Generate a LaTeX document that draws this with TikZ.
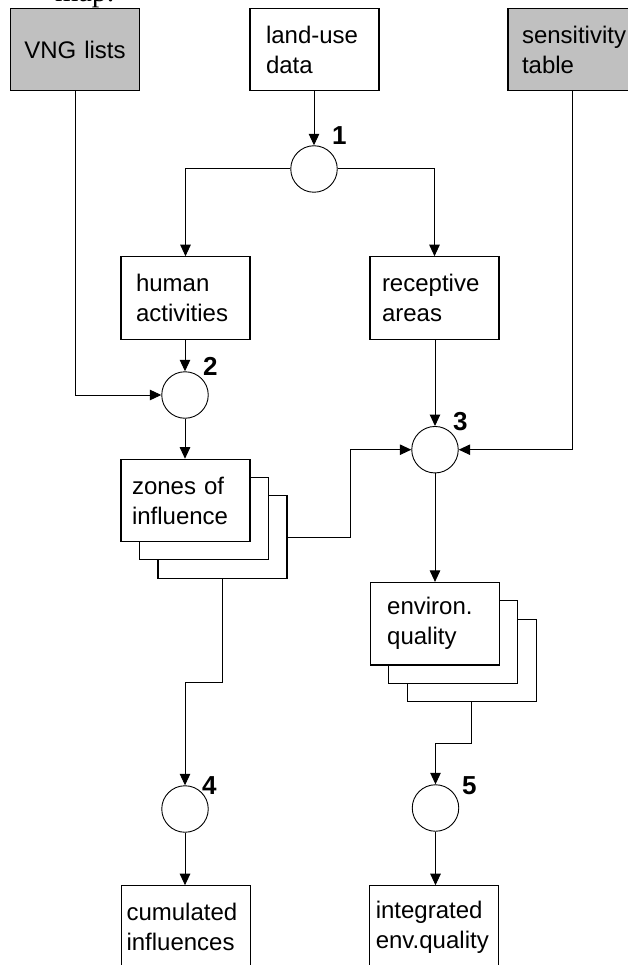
\documentclass[tikz,border=0pt]{standalone}
\usepackage{fontspec}
\setmainfont{Liberation Sans}
\newfontfamily\headserif{Liberation Serif}
\usetikzlibrary{arrows.meta}
\definecolor{sourcegray}{RGB}{192,192,192}
\tikzset{
  box/.style={draw, line width=1.1pt, fill=white, minimum height=82.5pt,
    align=left, inner ysep=0pt, font=\fontsize{24}{30}\selectfont},
  source/.style={box, fill=sourcegray},
  sheet/.style={draw, line width=1.1pt, fill=white, minimum width=129pt,
    minimum height=82.5pt, inner sep=0pt},
  proc/.style={circle, draw, line width=0.9pt, fill=white, minimum size=46.5pt, inner sep=0pt},
  num/.style={anchor=base west, inner sep=0pt, font=\fontsize{26}{26}\selectfont\bfseries},
  flow/.style={line width=1pt, -{Triangle[length=11.5pt,width=10.5pt]}}
}
\begin{document}
\begin{tikzpicture}[x=1pt, y=-1pt]
\useasboundingbox (0,0) rectangle (628,965);
\clip (0,0) rectangle (628,965);

% heading fragment above the first input
\node[anchor=base west, inner sep=0pt, font=\headserif\fontsize{30}{30}\selectfont] (head) at (55,2) {map.};

% inputs
\node[source, align=center, inner xsep=10pt, text width=109pt] (vng) at (75,49.5) {VNG lists};
\node[box, inner xsep=16pt, text width=97pt] (land) at (314.5,49.5) {land-use\\data};
\node[source, inner xsep=14pt, text width=108pt] (sens) at (576,49.5) {sensitivity\\table};

% processing steps
\node[proc] (c1) at (314,169) {};
\node[proc] (c2) at (185,395) {};
\node[proc] (c3) at (435,449.7) {};
\node[proc] (c4) at (185,809) {};
\node[proc] (c5) at (435.5,808) {};

\node[num] (n1) at (332,145) {1};
\node[num] (n2) at (203,375) {2};
\node[num] (n3) at (453,430) {3};
\node[num] (n4) at (202,794) {4};
\node[num] (n5) at (462,794) {5};

% intermediate layers
\node[box, inner xsep=15pt, text width=99pt] (human) at (185.5,298) {human\\activities};
\node[box, inner xsep=12pt, text width=105pt] (recep) at (434.5,298) {receptive\\areas};

% stacked result sets
\node[sheet] (z3) at (222.5,537) {};
\node[sheet] (z2) at (204,518.5) {};
\node[box, inner xsep=11pt, text width=107pt] (zones) at (185.5,500.5) {zones of\\influence};

\node[sheet] (e3) at (471.7,660.5) {};
\node[sheet] (e2) at (453.2,642) {};
\node[box, inner xsep=17pt, text width=95pt] (env) at (434.7,623.7) {environ.\\quality};

% outputs
\node[box, inner xsep=5pt, text width=119pt] (cumul) at (186,927) {cumulated\\influences};
\node[box, inner xsep=6pt, text width=117pt] (integ) at (434.3,927) {integrated\\env.quality};

% bend points
\coordinate (zbend) at (350,537);
\coordinate (zdrop) at (222.5,682.3);
\coordinate (edrop) at (471.7,743);

% connectors
\draw[flow] (land.south -| c1.north) -- (c1.north);
\draw[flow] (c1.west) -| (human.north);
\draw[flow] (c1.east) -| (recep.north);
\draw[flow] (human.south -| c2.north) -- (c2.north);
\draw[flow] (vng.south) |- (c2.west);
\draw[flow] (c2.south) -- (c2.south |- zones.north);
\draw[flow] (recep.south -| c3.north) -- (c3.north);
\draw[flow] ([xshift=65pt]sens.south west) |- (c3.east);
\draw[flow] (z3.east) -- (zbend) |- (c3.west);
\draw[flow] (c3.south) -- (c3.south |- env.north);
\draw[flow] (z3.south) -- (zdrop) -| (c4.north);
\draw[flow] (e3.south) -- (edrop) -| (c5.north);
\draw[flow] (c4.south) -- (c4.south |- cumul.north);
\draw[flow] (c5.south) -- (c5.south |- integ.north);
\end{tikzpicture}
\end{document}
